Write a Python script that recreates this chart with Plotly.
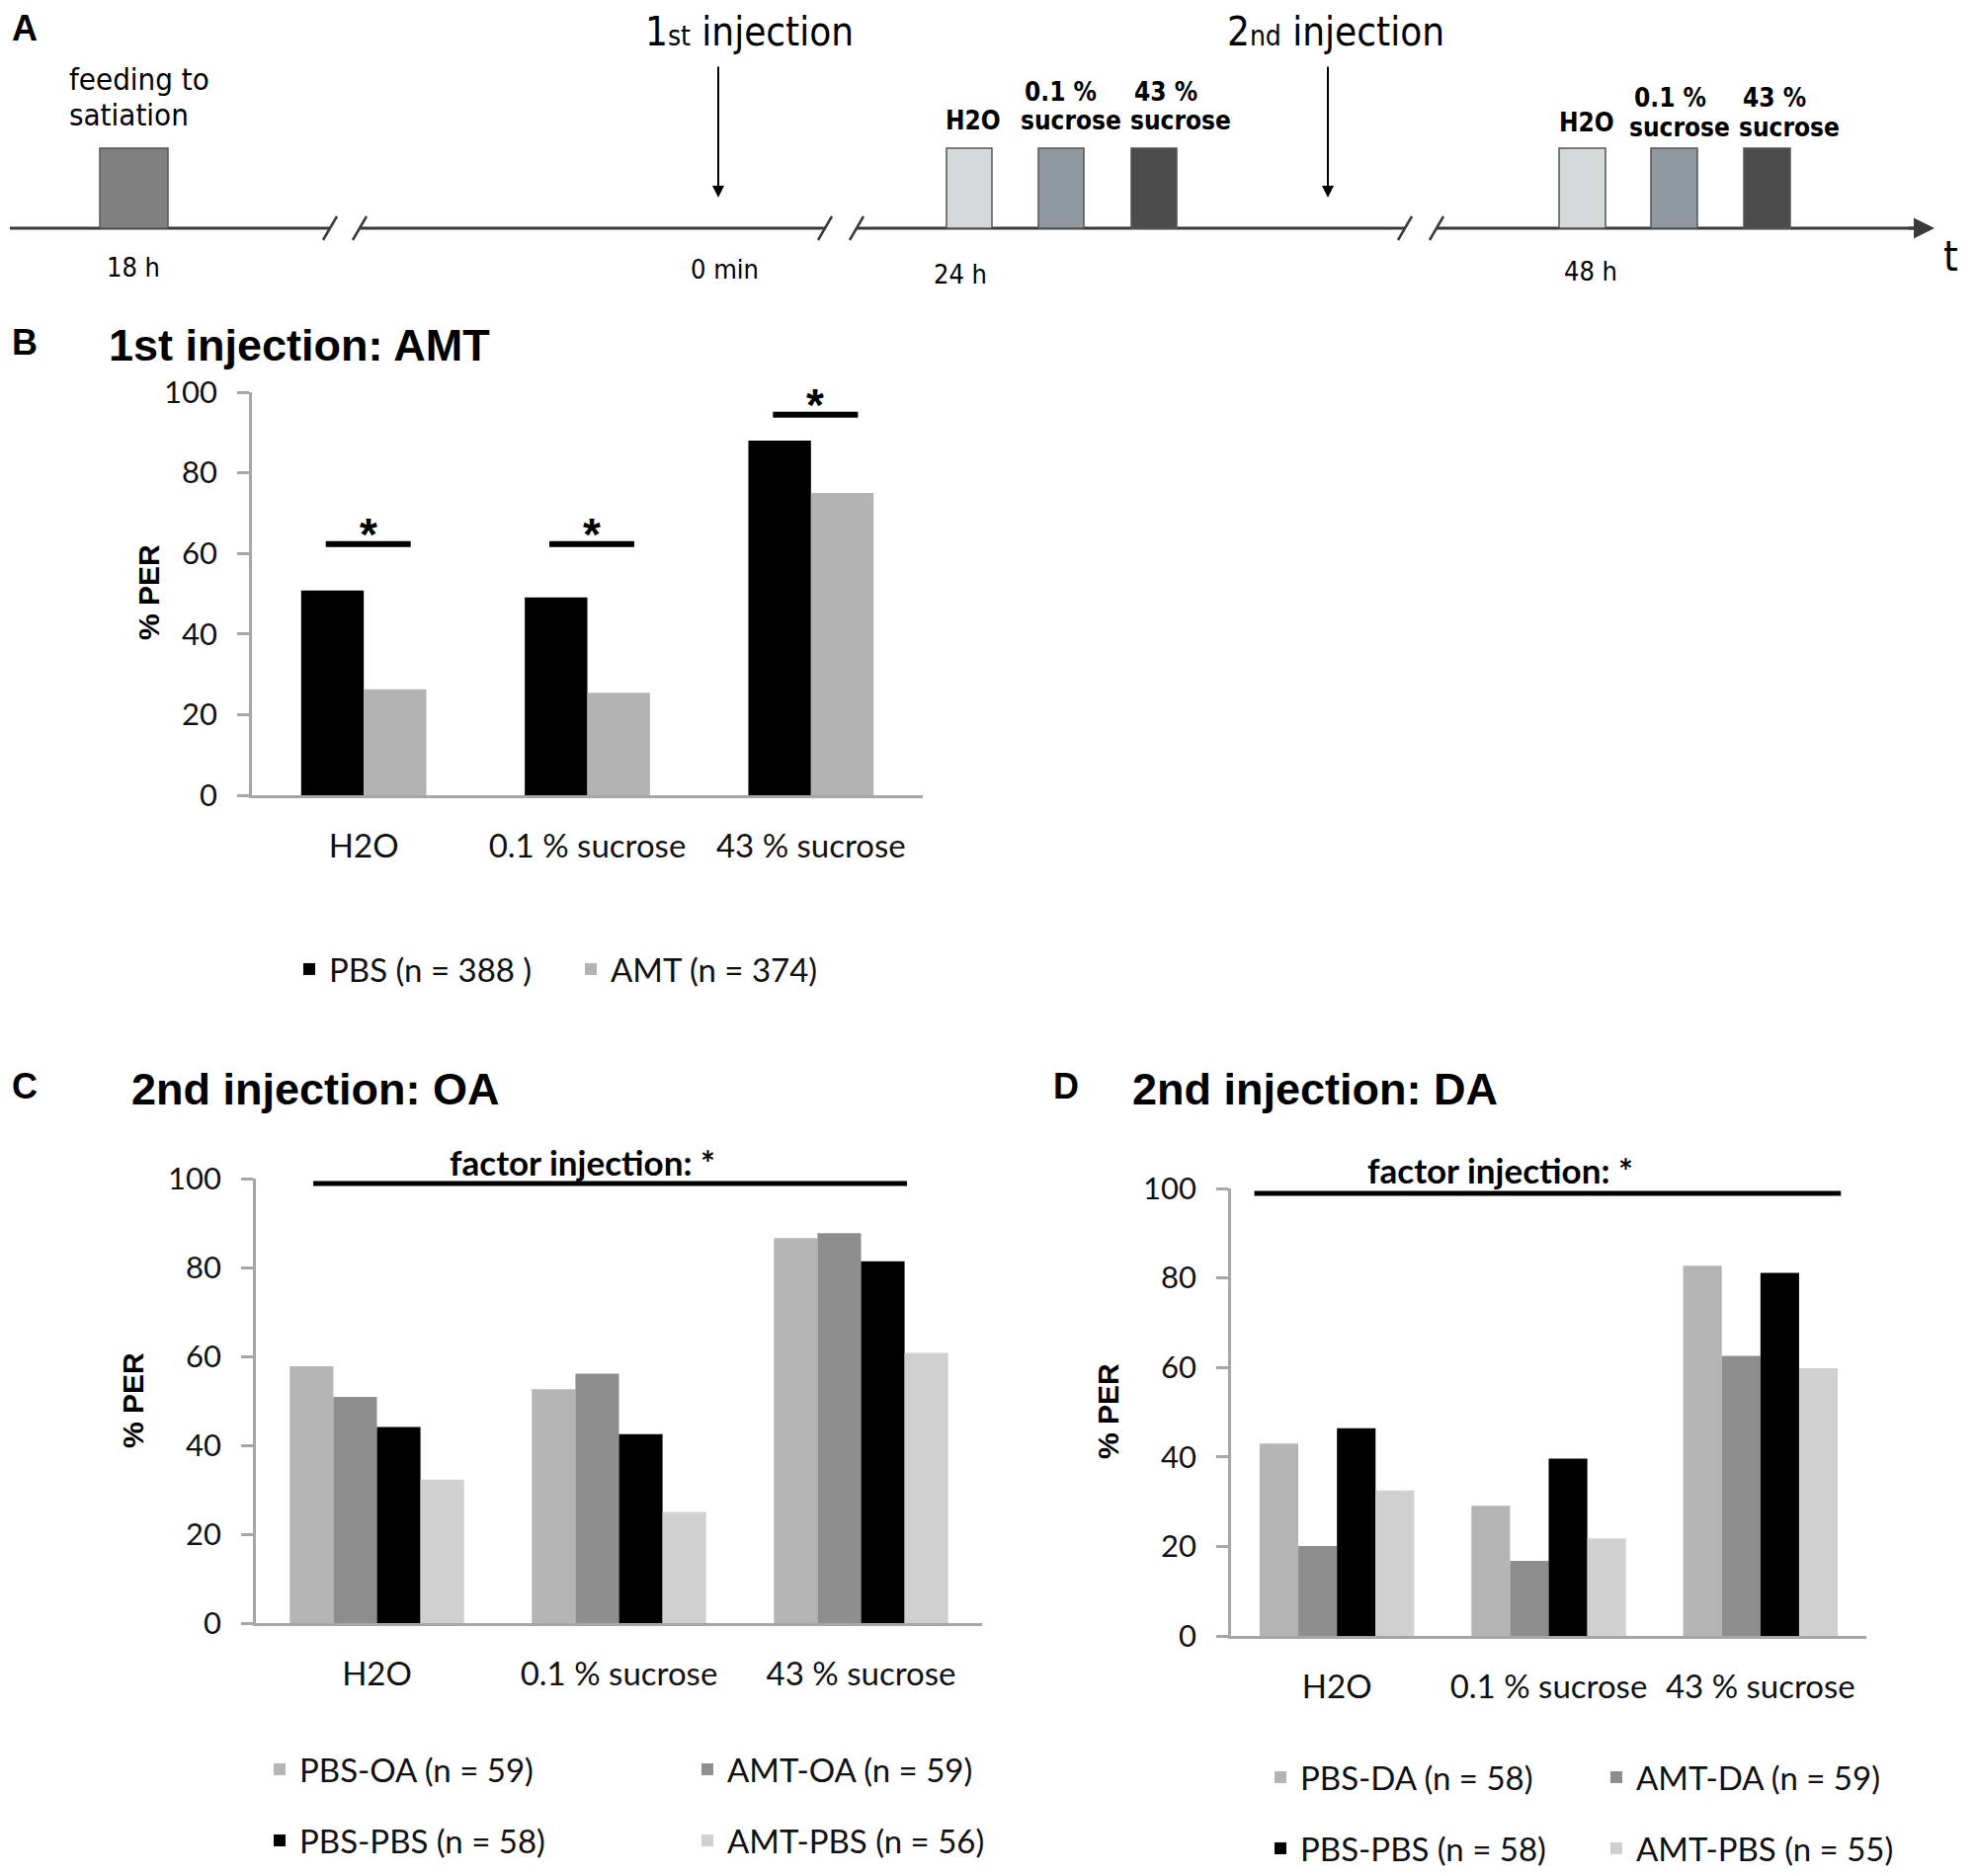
import plotly.graph_objects as go

W, H = 2000, 1899

# ---------------- data ----------------
categories = ["H2O", "0.1 % sucrose", "43 % sucrose"]

b_names = ["PBS (n = 388 )", "AMT (n = 374)"]
b_pbs = [50.8, 49.1, 88.0]
b_amt = [26.3, 25.4, 75.0]
b_sig_y = [62.3, 62.3, 94.4]

c_names = ["PBS-OA (n = 59)", "AMT-OA (n = 59)", "PBS-PBS (n = 58)", "AMT-PBS (n = 56)"]
c_pbs_oa = [57.8, 52.6, 86.6]
c_amt_oa = [50.9, 56.1, 87.7]
c_pbs_pbs = [44.1, 42.5, 81.4]
c_amt_pbs = [32.3, 25.0, 60.8]
c_factor_y = 98.9

d_names = ["PBS-DA (n = 58)", "AMT-DA (n = 59)", "PBS-PBS (n = 58)", "AMT-PBS (n = 55)"]
d_pbs_da = [43.0, 29.1, 82.7]
d_amt_da = [20.1, 16.8, 62.6]
d_pbs_pbs = [46.4, 39.6, 81.1]
d_amt_pbs = [32.5, 21.8, 59.8]
d_factor_y = 98.9

y_ticks = [0, 20, 40, 60, 80, 100]

timeline_labels = ["18 h", "0 min", "24 h", "48 h"]

# ---------------- styles ----------------
CAL = "Lato, Carlito, Calibri, sans-serif"
ARB = "Liberation Sans, Arial, sans-serif"
VER = "DejaVu Sans Condensed, DejaVu Sans, sans-serif"
AX = "#a6a6a6"

col_b = ["#000000", "#b3b3b3"]
col_4 = ["#b4b4b4", "#8e8e8e", "#000000", "#d0d0d0"]


def px(x):
    return x / W


def py(y):
    return 1 - y / H


fig = go.Figure()

# ---- Panel B ----
for vals, name, col, off in zip([b_pbs, b_amt], b_names, col_b, [-0.28, 0.0]):
    fig.add_trace(go.Bar(x=list(range(3)), y=vals, name=name, marker=dict(color=col, line=dict(width=0)),
                         width=0.28, offset=off, xaxis="x", yaxis="y", legend="legend"))

# ---- Panel C ----
c_series = [c_pbs_oa, c_amt_oa, c_pbs_pbs, c_amt_pbs]
for k, (vals, name, col) in enumerate(zip(c_series, c_names, col_4)):
    fig.add_trace(go.Bar(x=list(range(3)), y=vals, name=name, marker=dict(color=col, line=dict(width=0)),
                         width=0.18, offset=-0.36 + 0.18 * k, xaxis="x2", yaxis="y2",
                         legend="legend2" if k < 2 else "legend3"))

# ---- Panel D ----
d_series = [d_pbs_da, d_amt_da, d_pbs_pbs, d_amt_pbs]
for k, (vals, name, col) in enumerate(zip(d_series, d_names, col_4)):
    fig.add_trace(go.Bar(x=list(range(3)), y=vals, name=name, marker=dict(color=col, line=dict(width=0)),
                         width=0.1825, offset=-0.365 + 0.1825 * k, xaxis="x3", yaxis="y3",
                         legend="legend4" if k < 2 else "legend5"))

# overlay axis for schematic (pixel coordinates)
fig.add_trace(go.Scatter(x=[0], y=[0], mode="markers", marker=dict(opacity=0), showlegend=False,
                         hoverinfo="skip", xaxis="x4", yaxis="y4"))


def xax(dom):
    return dict(domain=dom, range=[-0.5, 2.5], tickmode="array", tickvals=list(range(3)),
                ticktext=categories, showline=True, linecolor=AX, linewidth=2.5, ticks="",
                showgrid=False, zeroline=False, ticklabelstandoff=21,
                tickfont=dict(family=CAL, size=33, color="#111"), fixedrange=True)


def yax(dom, anchor):
    return dict(domain=dom, range=[0, 100], tickvals=y_ticks, showline=True, linecolor=AX, linewidth=2.5,
                ticks="outside", ticklen=12, tickwidth=2.5, tickcolor=AX, showgrid=False, zeroline=False,
                ticklabelstandoff=14, tickfont=dict(family=CAL, size=31, color="#111"), anchor=anchor,
                fixedrange=True)


layout = dict(
    width=W, height=H, margin=dict(l=0, r=0, t=0, b=0, pad=0, autoexpand=False),
    paper_bgcolor="white", plot_bgcolor="rgba(0,0,0,0)",
    barmode="overlay", showlegend=True,
    xaxis=dict(xax([px(255), px(934)]), anchor="y"),
    yaxis=yax([py(805), py(397)], "x"),
    xaxis2=dict(xax([px(259), px(994)]), anchor="y2"),
    yaxis2=yax([py(1643), py(1193)], "x2"),
    xaxis3=dict(xax([px(1246), px(1889)]), anchor="y3"),
    yaxis3=yax([py(1656), py(1203)], "x3"),
    xaxis4=dict(domain=[0, 1], range=[0, W], visible=False, anchor="y4", fixedrange=True),
    yaxis4=dict(domain=[0, 1], range=[H, 0], visible=False, anchor="x4", fixedrange=True),
)

leg_font = dict(family=CAL, size=33, color="#111")


def leg(x, y, ew):
    return dict(x=px(x), y=py(y), xanchor="left", yanchor="middle", orientation="h", font=leg_font,
                entrywidth=ew, entrywidthmode="pixels", bgcolor="rgba(0,0,0,0)", itemclick=False,
                itemdoubleclick=False, tracegroupgap=0)


layout["legend"] = leg(293, 981, 240)
layout["legend2"] = leg(263, 1791, 388)
layout["legend3"] = leg(263, 1863, 388)
layout["legend4"] = leg(1276, 1799, 295)
layout["legend5"] = leg(1276, 1871, 295)

fig.update_layout(**layout)

shapes = []
ann = []

# significance bars in panel B
for i, sy in enumerate(b_sig_y):
    shapes.append(dict(type="line", xref="x", yref="y", x0=i - 0.17, x1=i + 0.21, y0=sy, y1=sy,
                       line=dict(color="black", width=6)))
    ann.append(dict(text="<b>*</b>", xref="x", yref="y", x=i + 0.02, y=sy + 2.5, yanchor="middle",
                    showarrow=False, font=dict(family=ARB, size=46, color="black")))

# factor lines
shapes.append(dict(type="line", xref="x2", yref="y2", x0=-0.263, x1=2.19, y0=c_factor_y, y1=c_factor_y,
                   line=dict(color="black", width=5)))
shapes.append(dict(type="line", xref="x3", yref="y3", x0=-0.39, x1=2.38, y0=d_factor_y, y1=d_factor_y,
                   line=dict(color="black", width=5)))


def t4(text, x, y, size, family=ARB, xanchor="center", yanchor="middle", angle=0, color="black"):
    ann.append(dict(text=text, xref="x4", yref="y4", x=x, y=y, xanchor=xanchor, yanchor=yanchor,
                    showarrow=False, textangle=angle, font=dict(family=family, size=size, color=color)))


t4("<b>factor injection: *</b>", 589, 1176, 35, family=CAL)
t4("<b>factor injection: *</b>", 1518, 1184, 35, family=CAL)

# panel letters and titles
t4("<b>A</b>", 10, 28, 36, xanchor="left")
t4("<b>B</b>", 10, 346, 36, xanchor="left")
t4("<b>C</b>", 10, 1099, 36, xanchor="left")
t4("<b>D</b>", 1064, 1099, 36, xanchor="left")
t4("<b>1st injection: AMT</b>", 108, 349, 45, xanchor="left")
t4("<b>2nd injection: OA</b>", 131, 1102, 45, xanchor="left")
t4("<b>2nd injection: DA</b>", 1144, 1102, 45, xanchor="left")
t4("<b>% PER</b>", 150, 600, 30, angle=-90)
t4("<b>% PER</b>", 134, 1418, 30, angle=-90)
t4("<b>% PER</b>", 1121, 1429, 30, angle=-90)

# ---------------- schematic (panel A) ----------------
LY = 231
LC = "#3a3a3a"
breaks = [334, 364, 835, 867, 1422, 1454]
segs = [(10, breaks[0]), (breaks[1], breaks[2]), (breaks[3], breaks[4]), (breaks[5], 1945)]
for a, b in segs:
    shapes.append(dict(type="line", xref="x4", yref="y4", x0=a, x1=b, y0=LY, y1=LY, line=dict(color=LC, width=3)))
for xb in breaks:
    shapes.append(dict(type="line", xref="x4", yref="y4", x0=xb - 7, x1=xb + 7, y0=LY + 12, y1=LY - 12,
                       line=dict(color=LC, width=2.5)))
# time arrow head
ann.append(dict(xref="x4", yref="y4", axref="x4", ayref="y4", x=1958, y=LY, ax=1930, ay=LY, text="",
                showarrow=True, arrowhead=2, arrowsize=1.4, arrowwidth=3, arrowcolor=LC))

boxes = [
    (101, 170, "#808080"),
    (958, 1004, "#d4d8d8"), (1051, 1097, "#8f999f"), (1145, 1191, "#4b4b4b"),
    (1578, 1625, "#d4d8d8"), (1671, 1718, "#8f999f"), (1765, 1812, "#4b4b4b"),
]
for x0, x1, c in boxes:
    shapes.append(dict(type="rect", xref="x4", yref="y4", x0=x0, x1=x1, y0=150, y1=LY,
                       fillcolor=c, line=dict(color="#555555", width=1.5)))

# injection arrows
for xa in [727, 1344]:
    ann.append(dict(xref="x4", yref="y4", axref="x4", ayref="y4", x=xa, y=200, ax=xa, ay=66, text="",
                    showarrow=True, arrowhead=2, arrowsize=1.2, arrowwidth=2, arrowcolor="black"))

sub = "<span style='font-size:28px'>%s</span>"
t4("1" + sub % "st" + " injection", 758, 32, 40, family=VER)
t4("2" + sub % "nd" + " injection", 1352, 32, 40, family=VER)
t4("feeding to", 68, 80, 31, family=VER, xanchor="left")
t4("satiation", 68, 116, 31, family=VER, xanchor="left")
for lab, x, y in zip(timeline_labels, [135, 733, 972, 1610], [270, 272, 277, 274]):
    t4(lab, x, y, 27, family=VER)

# stimulus labels above boxes
t4("<b>H2O</b>", 985, 122, 26, family=VER)
t4("<b>0.1 %</b>", 1073, 93, 26, family=VER)
t4("<b>sucrose</b>", 1084, 122, 26, family=VER)
t4("<b>43 %</b>", 1180, 93, 26, family=VER)
t4("<b>sucrose</b>", 1195, 122, 26, family=VER)
t4("<b>H2O</b>", 1606, 124, 26, family=VER)
t4("<b>0.1 %</b>", 1690, 99, 26, family=VER)
t4("<b>sucrose</b>", 1700, 129, 26, family=VER)
t4("<b>43 %</b>", 1796, 99, 26, family=VER)
t4("<b>sucrose</b>", 1811, 129, 26, family=VER)
t4("t", 1974, 259, 42, family=VER)

fig.update_layout(shapes=shapes, annotations=ann)
fig.write_html("out.html", config={"displayModeBar": False},
               post_script="document.body.style.margin='0px';")
